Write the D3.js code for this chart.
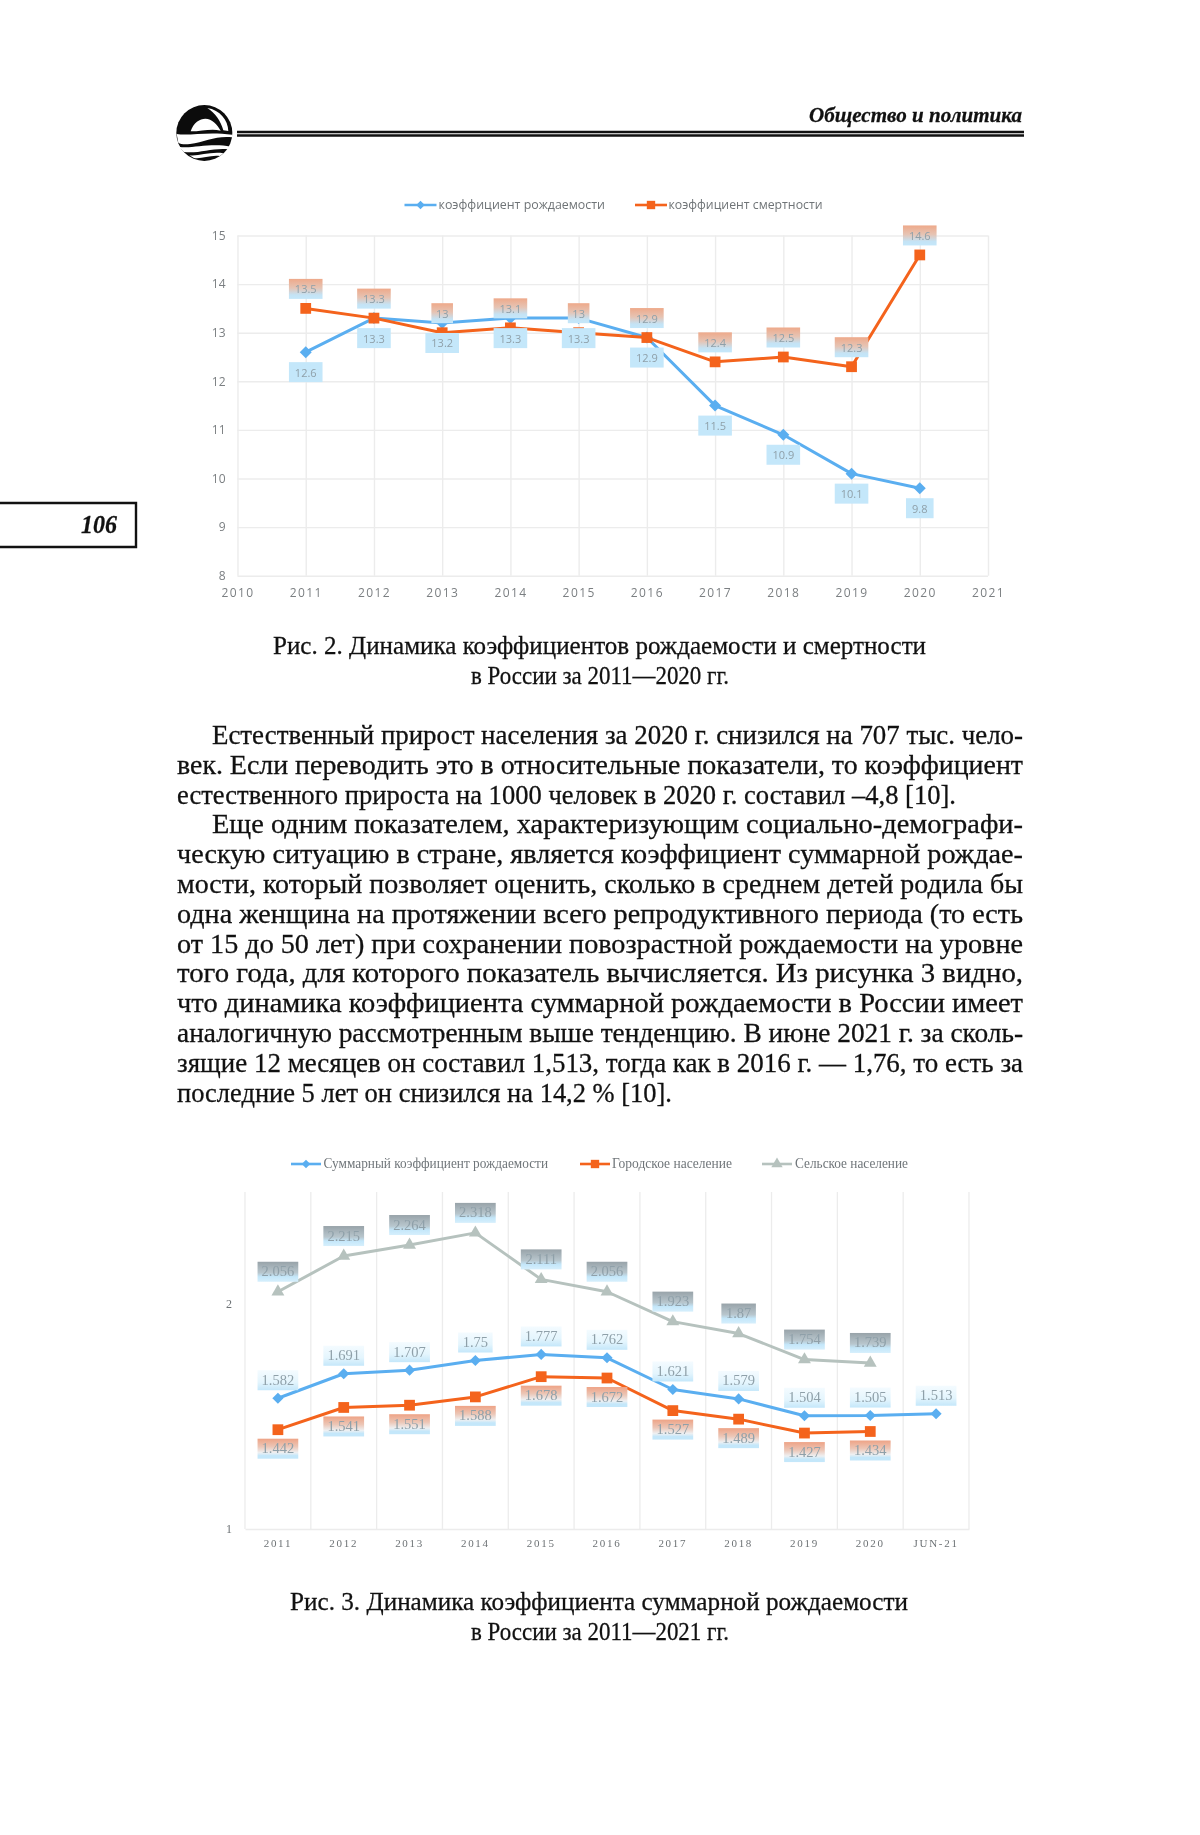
<!DOCTYPE html>
<html lang="ru"><head><meta charset="utf-8">
<script src="https://cdn.jsdelivr.net/npm/d3@7/dist/d3.min.js"></script>
<style>
html,body{margin:0;padding:0;background:#fff}
svg{display:block;filter:blur(0.5px)}
.serif{font-family:"Liberation Serif",serif;fill:#111;stroke:#111;stroke-width:.28px}
</style></head><body><div id="c"></div>
<script>
const years1 = [2011,2012,2013,2014,2015,2016,2017,2018,2019,2020];
const birthRate = [12.6,13.3,13.2,13.3,13.3,12.9,11.5,10.9,10.1,9.8];
const deathRate = [13.5,13.3,13,13.1,13,12.9,12.4,12.5,12.3,14.6];
const cats2 = ["2011","2012","2013","2014","2015","2016","2017","2018","2019","2020","JUN-21"];
const totalRate = [1.582,1.691,1.707,1.75,1.777,1.762,1.621,1.579,1.504,1.505,1.513];
const urbanRate = [1.442,1.541,1.551,1.588,1.678,1.672,1.527,1.489,1.427,1.434];
const ruralRate = [2.056,2.215,2.264,2.318,2.111,2.056,1.923,1.87,1.754,1.739];
const bodyLines = [
"Естественный прирост населения за 2020 г. снизился на 707 тыс. чело-",
"век. Если переводить это в относительные показатели, то коэффициент",
"естественного прироста на 1000 человек в 2020 г. составил –4,8 [10].",
"Еще одним показателем, характеризующим социально-демографи-",
"ческую ситуацию в стране, является коэффициент суммарной рождае-",
"мости, который позволяет оценить, сколько в среднем детей родила бы",
"одна женщина на протяжении всего репродуктивного периода (то есть",
"от 15 до 50 лет) при сохранении повозрастной рождаемости на уровне",
"того года, для которого показатель вычисляется. Из рисунка 3 видно,",
"что динамика коэффициента суммарной рождаемости в России имеет",
"аналогичную рассмотренным выше тенденцию. В июне 2021 г. за сколь-",
"зящие 12 месяцев он составил 1,513, тогда как в 2016 г. — 1,76, то есть за",
"последние 5 лет он снизился на 14,2 % [10]."];
const bodyEnds = [1023,1023,956,1023,1023,1023,1023,1023,1023,1023,1023,1023,672];
const bodyIndent = [true,false,false,true,false,false,false,false,false,false,false,false,false];

const BLUE="#5aaef0", ORANGE="#f4631c", GREY="#b6c2be", PALE="#c4e7fa";
const svg=d3.select("#c").append("svg").attr("width",1200).attr("height",1835).style("background","#fff");
const defs=svg.append("defs");
function grad(id,stops){const g=defs.append("linearGradient").attr("id",id).attr("x1",0).attr("x2",0).attr("y1",0).attr("y2",1);
  stops.forEach(([o,c])=>g.append("stop").attr("offset",o).attr("stop-color",c));}
grad("gO",[[0,"#eea98a"],[.45,"#e6c4b4"],[.8,"#c4e3f5"],[1,PALE]]);
grad("gO2",[[0,"#eea386"],[.4,"#ecc6b6"],[.7,"#eef0f2"],[.85,PALE],[1,PALE]]);
grad("gG",[[0,"#98a3a9"],[.55,"#b8c6cd"],[.75,PALE],[1,"#d6effc"]]);
grad("gB",[[0,"#f4fbff"],[.6,"#e4f5fd"],[1,PALE]]);

function drawSeries(g,vals,x,y,color,kind,w,ds){
  const pts=vals.map((v,i)=>[x(i),y(v)]);
  g.append("path").attr("d",d3.line()(pts)).attr("fill","none").attr("stroke",color).attr("stroke-width",w).attr("stroke-linejoin","round");
  const sym = kind==="square"?d3.symbol().type(d3.symbolSquare).size(116)
    : kind==="diamond"?d3.symbol().type(d3.symbolSquare).size(ds||72)
    : d3.symbol().type(d3.symbolTriangle).size(72);
  g.selectAll(null).data(pts).join("path").attr("d",sym())
    .attr("transform",d=>`translate(${d[0]},${d[1]})`+(kind==="diamond"?" rotate(45)":""))
    .attr("fill",color);
}
function drawLabels(g,vals,x,y,off,fill,font,fs,pad){
  const gg=g.selectAll(null).data(vals).join("g").attr("transform",(d,i)=>`translate(${x(i)},${y(d)+off})`);
  gg.append("rect").attr("x",d=>-(String(d).length*pad+pad*0.6)/2-3).attr("width",d=>String(d).length*pad+pad*0.6+6)
    .attr("y",-10).attr("height",20).attr("fill",fill);
  gg.append("text").text(d=>d).attr("text-anchor","middle").attr("y",4.5).attr("font-family",font).attr("font-size",fs).attr("fill","#8fa0a9");
}

/* ---------- page furniture ---------- */
svg.append("text").attr("class","serif").attr("x",809).attr("y",122).attr("textLength",213).attr("lengthAdjust","spacingAndGlyphs")
  .attr("font-size",22).attr("font-weight","bold").attr("font-style","italic").text("Общество и политика");
svg.append("line").attr("x1",237).attr("x2",1024).attr("y1",132).attr("y2",132).attr("stroke","#111").attr("stroke-width",2.6);
svg.append("line").attr("x1",237).attr("x2",1024).attr("y1",135.5).attr("y2",135.5).attr("stroke","#111").attr("stroke-width",2.6);
const logo=svg.append("g").attr("transform","translate(170,98) scale(0.3333)");
logo.append("circle").attr("cx",103).attr("cy",105).attr("r",84).attr("fill","#0c0c0c");
[
"M112,30 C150,36 174,66 175,99 L160,97 C153,70 135,44 112,30 Z",
"M62,100 C70,74 90,62 106,62 C126,62 142,80 152,98 C125,90 95,100 62,100 Z",
"M20,108 C60,114 110,100 187,110 L186,118 C140,112 105,132 60,138 C42,140 32,138 25,134 Z",
"M26,146 C60,154 120,134 182,146 L176,154 C130,148 85,168 42,162 Z",
"M58,172 C85,176 120,160 160,166 L150,174 C120,170 95,184 72,180 Z"
].forEach(d=>logo.append("path").attr("d",d).attr("fill","#fff"));

svg.append("path").attr("d","M-3,503 H136 V547 H-3").attr("fill","none").attr("stroke","#111").attr("stroke-width",2.4);
svg.append("text").attr("class","serif").attr("x",81).attr("y",533).attr("textLength",36)
  .attr("lengthAdjust","spacingAndGlyphs").attr("font-size",26).attr("font-weight","bold").attr("font-style","italic").text("106");

function caption(t,x1,x2,y){svg.append("text").attr("class","serif").attr("x",x1).attr("y",y).attr("textLength",x2-x1)
  .attr("lengthAdjust","spacingAndGlyphs").attr("font-size",26).text(t);}
caption("Рис. 2. Динамика коэффициентов рождаемости и смертности",273,926,654);
caption("в России за 2011—2020 гг.",471,729,684);
caption("Рис. 3. Динамика коэффициента суммарной рождаемости",290,908,1610);
caption("в России за 2011—2021 гг.",471,729,1640);

bodyLines.forEach((t,i)=>{const x1=bodyIndent[i]?212:177;
  svg.append("text").attr("class","serif").attr("x",x1).attr("y",744+i*29.8).attr("textLength",bodyEnds[i]-x1)
   .attr("lengthAdjust","spacingAndGlyphs").attr("font-size",27.5).text(t);});

/* ---------- chart 1 ---------- */
const SANS='"Open Sans",sans-serif', AX="#7b7f82", GRID="#ececec";
const c1=svg.append("g");
const x1=d3.scaleLinear().domain([2010,2021]).range([237.5,988]);
const y1=d3.scaleLinear().domain([8,15]).range([575.7,235.5]);
const ax1=c1.append("g").attr("transform","translate(0,575.7)").call(d3.axisBottom(x1).ticks(11).tickFormat(d3.format("d")).tickSize(-340.2).tickPadding(13));
const ay1=c1.append("g").attr("transform","translate(237.5,0)").call(d3.axisLeft(y1).ticks(7).tickSize(-750.5).tickPadding(12));
[ax1,ay1].forEach(a=>{a.select(".domain").remove();a.selectAll("line").attr("stroke",GRID).attr("stroke-width",1.4);});
ax1.selectAll("text").attr("font-family",SANS).attr("font-size",12).attr("letter-spacing",1.4).attr("fill",AX);
ay1.selectAll("text").attr("font-family",SANS).attr("font-size",12).attr("fill",AX);
const x1i=i=>x1(years1[i]);
drawSeries(c1,birthRate,x1i,y1,BLUE,"diamond",3);
drawSeries(c1,deathRate,x1i,y1,ORANGE,"square",3);
drawLabels(c1,birthRate,x1i,y1,20,PALE,SANS,11,6);
drawLabels(c1,deathRate,x1i,y1,-19.5,"url(#gO)",SANS,11,6);

function legend(parent,items,y,font,fs,col){
  items.forEach(it=>{
    parent.append("line").attr("x1",it.a).attr("x2",it.b).attr("y1",y).attr("y2",y).attr("stroke",it.c).attr("stroke-width",2.6);
    const sym= it.k==="square"?d3.symbol().type(d3.symbolSquare).size(70): it.k==="diamond"?d3.symbol().type(d3.symbolSquare).size(36):d3.symbol().type(d3.symbolTriangle).size(56);
    parent.append("path").attr("d",sym()).attr("fill",it.c).attr("transform",`translate(${(it.a+it.b)/2},${y})`+(it.k==="diamond"?" rotate(45)":""));
    parent.append("text").attr("x",it.tx).attr("y",y+4).attr("textLength",it.te-it.tx).attr("lengthAdjust","spacingAndGlyphs")
      .attr("font-family",font).attr("font-size",fs).attr("fill",col).text(it.t);
  });
}
legend(c1,[
 {t:"коэффициент рождаемости",a:404.5,b:436.5,tx:438.5,te:605,c:BLUE,k:"diamond"},
 {t:"коэффициент смертности",a:635,b:667,tx:668.5,te:822.5,c:ORANGE,k:"square"}],205,SANS,13,"#6f7477");

/* ---------- chart 2 ---------- */
const c2=svg.append("g");
const x2=d3.scaleBand().domain(cats2).range([245,969]);
const y2=d3.scaleLinear().domain([1,2.5]).range([1529,1192]);
const x2i=i=>x2(cats2[i])+x2.bandwidth()/2;
c2.selectAll(null).data(cats2.slice().concat(["_end"])).join("line")
  .attr("x1",(d,i)=>245+i*x2.bandwidth()).attr("x2",(d,i)=>245+i*x2.bandwidth())
  .attr("y1",y2(2.5)).attr("y2",y2(1)).attr("stroke",GRID).attr("stroke-width",1.3);
const ax2=c2.append("g").attr("transform",`translate(0,${y2(1)})`).call(d3.axisBottom(x2).tickSize(0).tickPadding(10));
ax2.select(".domain").attr("stroke",GRID).attr("stroke-width",1.4);
ax2.selectAll("text").attr("font-family","Liberation Serif").attr("font-size",11).attr("letter-spacing",1.7).attr("fill","#6d7275");
const ay2=c2.append("g").attr("transform","translate(245,0)").call(d3.axisLeft(y2).tickValues([1,2]).tickFormat(d3.format("d")).tickSize(0).tickPadding(13));
ay2.select(".domain").remove();
ay2.selectAll("text").attr("font-family","Liberation Serif").attr("font-size",12).attr("fill","#6d7275").attr("dy","0.25em");
drawSeries(c2,ruralRate,x2i,y2,GREY,"triangle",3);
drawSeries(c2,totalRate,x2i,y2,BLUE,"diamond",3,62);
drawSeries(c2,urbanRate,x2i,y2,ORANGE,"square",3);
const SER="Liberation Serif";
drawLabels(c2,ruralRate,x2i,y2,-20,"url(#gG)",SER,14.5,6.2);
drawLabels(c2,totalRate,x2i,y2,-18,"url(#gB)",SER,14.5,6.2);
drawLabels(c2,urbanRate,x2i,y2,19,"url(#gO2)",SER,14.5,6.2);
legend(c2,[
 {t:"Суммарный коэффициент рождаемости",a:291,b:321,tx:323.5,te:548,c:BLUE,k:"diamond"},
 {t:"Городское население",a:580,b:610,tx:612,te:732,c:ORANGE,k:"square"},
 {t:"Сельское население",a:762,b:792,tx:795,te:908,c:GREY,k:"triangle"}],1164,SER,14,"#70767a");
</script></body></html>
